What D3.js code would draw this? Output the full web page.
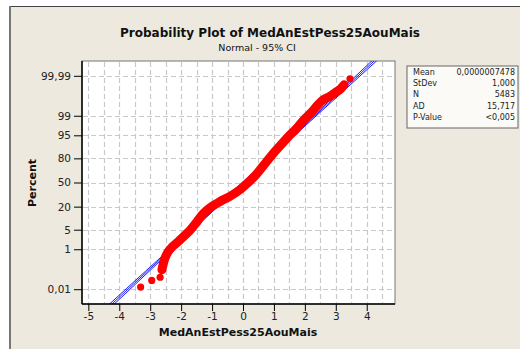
<!DOCTYPE html>
<html>
<head>
<meta charset="utf-8">
<script src="https://cdn.jsdelivr.net/npm/d3@7"></script>
<style>
  body { margin: 0; background: #fff; }
  svg { display: block; font-family: "DejaVu Sans", Verdana, sans-serif; }
</style>
</head>
<body>
<svg id="chart" width="520" height="349"></svg>
<script>
// values
const xTicks = [-5, -4, -3, -2, -1, 0, 1, 2, 3, 4];
const xGrid = [-5, -4.5, -4, -3.5, -3, -2.5, -2, -1.5, -1, -0.5, 0, 0.5, 1, 1.5, 2, 2.5, 3, 3.5, 4, 4.5];
const yTicks = [0.01, 1, 5, 20, 50, 80, 95, 99, 99.99];
const yTickLabels = ["0,01", "1", "5", "20", "50", "80", "95", "99", "99,99"];

// observed points (value, percent) traced along the red band
const obsValue = [-3.31, -2.95, -2.68, -2.62, -2.54, -2.44, -2.30, -2.10, -1.91, -1.71, -1.49, -1.29,
  -1.07, -0.74, -0.39, -0.10, 0.16, 0.42, 0.68, 0.94, 1.20, 1.46, 1.72, 1.97, 2.23, 2.42, 2.59,
  2.81, 2.97, 3.14, 3.27, 3.46];
const obsPercent = [0.0134, 0.032, 0.048, 0.118, 0.354, 0.72, 1.2, 1.94, 3.04, 4.8, 8.5, 13.8,
  18.9, 25.4, 32.2, 40.0, 49.6, 60.6, 73.1, 83.3, 89.96, 94.44, 96.93, 98.56, 99.31, 99.66, 99.80,
  99.867, 99.911, 99.942, 99.967, 99.985];

// fitted line and 95% CI
const fitPercent = [0.0005, 0.1, 5, 50, 95, 99.9, 99.9995];
const fitValue = [-4.42, -3.09, -1.645, 0, 1.645, 3.09, 4.42];
const ciLower = [-4.50, -3.15, -1.675, -0.025, 1.615, 3.03, 4.34];
const ciUpper = [-4.34, -3.03, -1.615, 0.025, 1.675, 3.15, 4.50];

const statNames = ["Mean", "StDev", "N", "AD", "P-Value"];
const statValues = ["0,0000007478", "1,000", "5483", "15,717", "<0,005"];

// inverse normal cdf (probability axis)
function probit(p) {
  const a = [-39.69683028665376, 220.9460984245205, -275.9285104469687, 138.3577518672690, -30.66479806614716, 2.506628277459239];
  const b = [-54.47609879822406, 161.5858368580409, -155.6989798598866, 66.80131188771972, -13.28068155288572];
  const c = [-0.007784894002430293, -0.3223964580411365, -2.400758277161838, -2.549732539343734, 4.374664141464968, 2.938163982698783];
  const d = [0.007784695709041462, 0.3224671290700398, 2.445134137142996, 3.754408661907416];
  const pl = 0.02425;
  let q, r;
  if (p < pl) {
    q = Math.sqrt(-2 * Math.log(p));
    return (((((c[0]*q+c[1])*q+c[2])*q+c[3])*q+c[4])*q+c[5]) / ((((d[0]*q+d[1])*q+d[2])*q+d[3])*q+1);
  } else if (p <= 1 - pl) {
    q = p - 0.5; r = q * q;
    return (((((a[0]*r+a[1])*r+a[2])*r+a[3])*r+a[4])*r+a[5])*q / (((((b[0]*r+b[1])*r+b[2])*r+b[3])*r+b[4])*r+1);
  }
  q = Math.sqrt(-2 * Math.log(1 - p));
  return -(((((c[0]*q+c[1])*q+c[2])*q+c[3])*q+c[4])*q+c[5]) / ((((d[0]*q+d[1])*q+d[2])*q+d[3])*q+1);
}

const svg = d3.select("#chart");
const plot = { left: 82, top: 61, right: 395, bottom: 304 };

const x = d3.scaleLinear().domain([-5.205, 4.914]).range([plot.left, plot.right]);
const yz = d3.scaleLinear().domain([-4.235, 4.235]).range([plot.bottom, plot.top]);
const y = (p) => yz(probit(p / 100));

// panel
svg.append("rect").attr("x", 9).attr("y", 6).attr("width", 520).attr("height", 349)
  .attr("fill", "#ede9df");
svg.append("line").attr("x1", 9).attr("x2", 520).attr("y1", 6.5).attr("y2", 6.5)
  .attr("stroke", "#444").attr("stroke-width", 1);
svg.append("line").attr("x1", 10).attr("x2", 10).attr("y1", 6).attr("y2", 349)
  .attr("stroke", "#777").attr("stroke-width", 2);

// titles
svg.append("text").attr("x", 270).attr("y", 37).attr("text-anchor", "middle")
  .style("font-size", "12px").style("font-weight", "bold").attr("fill", "#111")
  .text("Probability Plot of MedAnEstPess25AouMais");
svg.append("text").attr("x", 257).attr("y", 51).attr("text-anchor", "middle")
  .style("font-size", "9.5px").attr("fill", "#111")
  .text("Normal - 95% CI");

// plot area
svg.append("rect").attr("x", plot.left).attr("y", plot.top)
  .attr("width", plot.right - plot.left).attr("height", plot.bottom - plot.top)
  .attr("fill", "#fff").attr("stroke", "#777");

svg.append("clipPath").attr("id", "clip").append("rect")
  .attr("x", plot.left).attr("y", plot.top)
  .attr("width", plot.right - plot.left).attr("height", plot.bottom - plot.top);

const grid = svg.append("g").attr("stroke", "#c8c8c8").attr("stroke-width", 1.2)
  .attr("stroke-dasharray", "5,3");
grid.selectAll("line.v").data(xGrid).join("line").attr("class", "v")
  .attr("x1", (d) => Math.round(x(d)) + 0.5).attr("x2", (d) => Math.round(x(d)) + 0.5)
  .attr("y1", plot.top + 1).attr("y2", plot.bottom);
grid.selectAll("line.h").data(yTicks).join("line").attr("class", "h")
  .attr("y1", (d) => Math.round(y(d)) + 0.5).attr("y2", (d) => Math.round(y(d)) + 0.5)
  .attr("x1", plot.left + 1).attr("x2", plot.right - 1);

// fitted line + CI
const inner = svg.append("g").attr("clip-path", "url(#clip)");
const fitLine = (vals) => d3.line().x((d, i) => x(vals[i])).y((d) => y(d))(fitPercent);
[ciLower, fitValue, ciUpper].forEach((vals) => {
  inner.append("path").attr("d", fitLine(vals)).attr("fill", "none")
    .attr("stroke", "#1a1aff").attr("stroke-width", 1);
});

// observations
const band = obsPercent.slice(3, 31).map((p, i) => [x(obsValue[i + 3]), y(p)]);
inner.append("path").attr("d", d3.line().curve(d3.curveCatmullRom)(band))
  .attr("fill", "none").attr("stroke", "#ff0000").attr("stroke-width", 9)
  .attr("stroke-linecap", "round").attr("stroke-linejoin", "round");
inner.selectAll("circle").data(obsPercent).join("circle")
  .attr("cx", (d, i) => x(obsValue[i])).attr("cy", (d) => y(d))
  .attr("r", 3.6).attr("fill", "#ff0000");

// axes
const xAxis = svg.append("g").attr("transform", `translate(0,${plot.bottom})`)
  .call(d3.axisBottom(x).tickValues(xTicks).tickSize(7).tickPadding(2).tickFormat((d) => String(d)));
const yAxis = svg.append("g").attr("transform", `translate(${plot.left},0)`)
  .call(d3.axisLeft(yz).tickValues(yTicks.map((p) => probit(p / 100)))
    .tickSize(8).tickPadding(3).tickFormat((d, i) => yTickLabels[i]));
[xAxis, yAxis].forEach((g) => {
  g.select(".domain").attr("stroke", "#000").attr("stroke-width", 1.5);
  g.selectAll(".tick line").attr("stroke", "#000");
  g.selectAll("text").attr("fill", "#222").style("font-size", "10.5px")
    .style("font-family", "DejaVu Sans, Verdana, sans-serif");
});
xAxis.select(".domain").attr("d", `M${plot.left},0H${plot.right}`);
yAxis.select(".domain").attr("d", `M0,${plot.top}V${plot.bottom}`);

svg.append("text").attr("x", 238).attr("y", 336).attr("text-anchor", "middle")
  .style("font-size", "11px").style("font-weight", "bold").attr("fill", "#111")
  .text("MedAnEstPess25AouMais");
svg.append("text").attr("transform", "translate(36,183) rotate(-90)").attr("text-anchor", "middle")
  .style("font-size", "11px").style("font-weight", "bold").attr("fill", "#111")
  .text("Percent");

// stats box
const box = svg.append("g").attr("transform", "translate(407,66)");
box.append("rect").attr("width", 111).attr("height", 62).attr("fill", "#fbfaf6")
  .attr("stroke", "#666").attr("stroke-width", 1);
box.selectAll("text.n").data(statNames).join("text").attr("class", "n")
  .attr("x", 6).attr("y", (d, i) => 9 + i * 11.2)
  .style("font-size", "8px").attr("fill", "#222").text((d) => d);
box.selectAll("text.v").data(statValues).join("text").attr("class", "v")
  .attr("x", 108).attr("y", (d, i) => 9 + i * 11.2).attr("text-anchor", "end")
  .style("font-size", "8px").attr("fill", "#222").text((d) => d);
</script>
</body>
</html>
